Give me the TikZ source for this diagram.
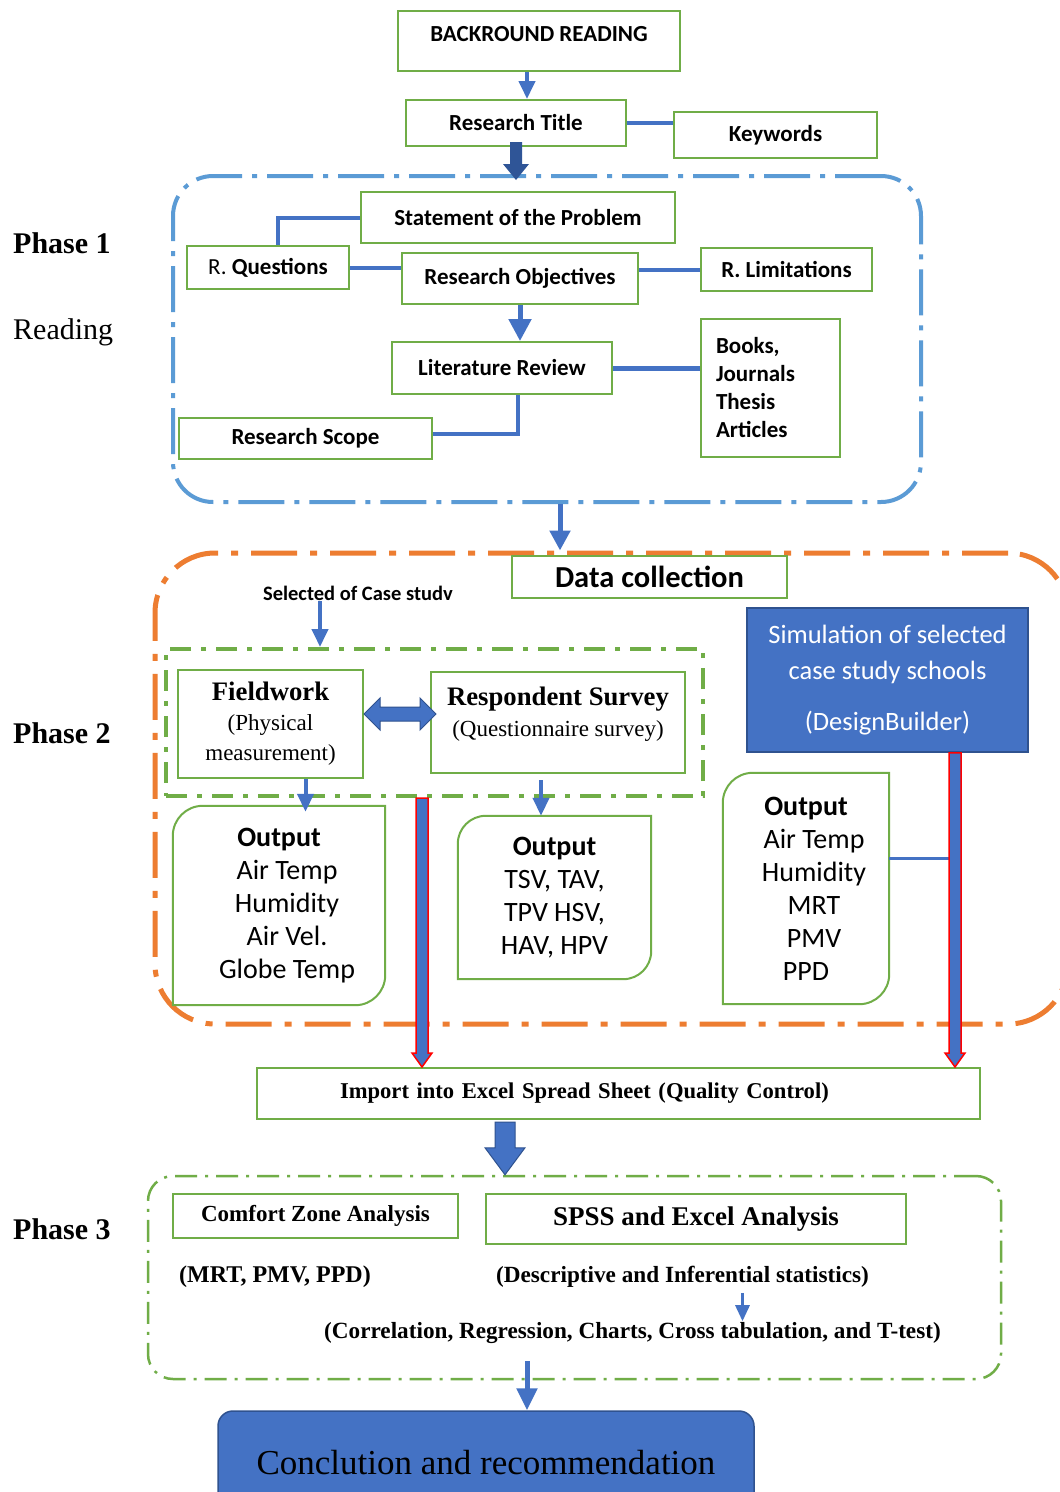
\documentclass[tikz,border=0pt]{standalone}
\usepackage{fontspec}
\setmainfont{Liberation Serif}
\newfontfamily\calibri{Carlito}
\usepackage{tikz}
\usetikzlibrary{arrows.meta,positioning,calc}
\definecolor{BoxGreen}   {RGB}{112,173, 71}
\definecolor{FlowBlue}   {RGB}{ 68,114,196}
\definecolor{FlowDark}   {RGB}{ 47, 85,151}
\definecolor{PhaseBlue}  {RGB}{ 91,155,213}
\definecolor{PhaseOrange}{RGB}{237,125, 49}
\definecolor{SimEdge}    {RGB}{ 47, 82,143}
% box with round top-left and bottom-right corners
\newcommand{\roundpair}[2]{%
  \draw[BoxGreen, line width=2pt]
    ([xshift=#2]#1.north west) -- (#1.north east)
    -- ([yshift=#2]#1.south east) arc[start angle=0, end angle=-90, radius=#2]
    -- (#1.south west)
    -- ([yshift=-#2]#1.north west) arc[start angle=180, end angle=90, radius=#2]
    -- cycle;%
}
% downward block arrow: style, from, to, half shaft, half head, head length
\newcommand{\blockarrow}[6][]{%
  \path[#1] let \p1=#2, \p2=#3 in
    (\x1-#4pt,\y1) -- (\x1-#4pt,\y2+#6pt) -- (\x1-#5pt,\y2+#6pt) -- (\x1,\y2)
    -- (\x1+#5pt,\y2+#6pt) -- (\x1+#4pt,\y2+#6pt) -- (\x1+#4pt,\y1) -- cycle;%
}
\newcommand{\rsh}{\hspace*{16pt}}
\begin{document}
\begin{tikzpicture}[x=1pt,y=-1pt,
  gbox/.style={draw=BoxGreen, line width=2pt, fill=white, inner sep=0pt, align=center,
    font=\calibri\bfseries\fontsize{23}{28}\selectfont},
  tbox/.style={gbox, font=\bfseries\fontsize{22.6}{26}\selectfont},
  outbox/.style={inner sep=0pt, align=center, font=\calibri\fontsize{28}{33}\selectfont},
  phaselbl/.style={inner sep=0pt, anchor=base west, font=\bfseries\fontsize{30}{36}\selectfont},
  note/.style={inner sep=1pt, font=\bfseries\fontsize{23.2}{27}\selectfont},
  link/.style={FlowBlue, line width=4pt},
  flow/.style={FlowBlue, line width=4pt, -{Triangle[width=16pt,length=18pt]}},
  phaseone/.style={draw=PhaseBlue, line width=4pt, rounded corners=40pt,
    dash pattern=on 46pt off 10pt on 5pt off 10pt},
  phasetwo/.style={draw=PhaseOrange, line width=5pt, rounded corners=60pt,
    dash pattern=on 46pt off 13pt on 7pt off 13pt},
  phasethree/.style={draw=BoxGreen, line width=2.5pt, rounded corners=25pt,
    dash pattern=on 22pt off 8pt on 3pt off 8pt},
  group/.style={draw=BoxGreen, line width=4pt,
    dash pattern=on 21pt off 10pt on 5pt off 10pt}]

  \fill[white] (0,0) rectangle (1060,1492);
  \useasboundingbox (0,0) rectangle (1060,1492);

  % phase frames
  \node[phaseone, minimum width=748pt, minimum height=326pt] (ph1) at (547,339) {};
  \node[phasetwo, minimum width=913pt, minimum height=471pt] (ph2) at (611.5,788.5) {};
  \node[phasethree, minimum width=853pt, minimum height=203pt] (ph3) at (574.5,1277.5) {};
  \node[group, minimum width=537pt, minimum height=147pt] (grp) at (434.5,722.5) {};

  % phase labels
  \node[phaselbl] (lbl1) at (13,253) {Phase 1};
  \node[phaselbl, font=\fontsize{30}{36}\selectfont] (lbl1b) at (13,339) {Reading};
  \node[phaselbl] (lbl2) at (13,743) {Phase 2};
  \node[phaselbl] (lbl3) at (13,1239) {Phase 3};

  % top and phase 1
  \node[gbox, minimum width=282pt, minimum height=60pt] (bg) at (539,41) {BACKROUND READING\\[-14pt]\mbox{}};
  \node[gbox, minimum width=220pt, minimum height=46pt] (title) at (516,123) {Research Title};
  \node[gbox, minimum width=203pt, minimum height=46pt] (kw) at (775.5,135) {Keywords};
  \node[gbox, minimum width=314pt, minimum height=51pt] (stmt) at (518,217.5) {Statement of the Problem};
  \node[gbox, minimum width=162pt, minimum height=43pt] (rq) at (268,267.5) {{\mdseries R.} Questions};
  \node[gbox, minimum width=236pt, minimum height=51pt] (ro) at (520,278.5) {Research Objectives};
  \node[gbox, minimum width=171pt, minimum height=43pt] (rl) at (786.5,269.5) {R. Limitations};
  \node[gbox, minimum width=220pt, minimum height=52pt] (lr) at (502,368) {Literature Review};
  \node[gbox, minimum width=139pt, minimum height=138pt, text width=109pt, align=left]
    (books) at (770.5,388) {Books,\\Journals\\Thesis\\Articles};
  \node[gbox, minimum width=253pt, minimum height=41pt] (rs) at (305.5,438.5) {Research Scope};

  \draw[link] (title.east) -- (title.east -| kw.west);
  \draw[link] (stmt.west) -| ([xshift=10pt]rq.north);
  \draw[link] (rq.east) -- (rq.east -| ro.west);
  \draw[link] (rl.west -| ro.east) -- (rl.west);
  \draw[link, line width=5pt] (lr.east) -- (lr.east -| books.west);
  \draw[link] ([xshift=16pt]lr.south) |- ([yshift=5pt]rs.east);
  \draw[flow] ([xshift=-12pt]bg.south) -- ([xshift=-12pt]bg.south |- title.north);
  \draw[flow, line width=5pt, -{Triangle[width=22pt,length=22pt]}]
    (ro.south) -- (ro.south |- lr.north);

  % phase 2
  \node[gbox, minimum width=275pt, minimum height=42pt, font=\calibri\bfseries\fontsize{30.5}{36}\selectfont]
    (dc) at (649.5,577) {Data collection};
  \node[note, font=\calibri\bfseries\fontsize{20.5}{24}\selectfont] (sel) at (358,593) {Selected of Case studv};
  \node[gbox, minimum width=185pt, minimum height=108pt, font=\fontsize{23}{30}\selectfont]
    (fw) at (270.5,724) {{\bfseries\fontsize{26.7}{30}\selectfont Fieldwork}\\(Physical\\measurement)};
  \node[gbox, minimum width=254pt, minimum height=101pt, font=\fontsize{23}{31}\selectfont]
    (rsv) at (558,722.5) {{\bfseries\fontsize{26.7}{30}\selectfont Respondent Survey}\\(Questionnaire survey)\\[-10pt]\mbox{}};
  \node[draw=SimEdge, line width=1.5pt, fill=FlowBlue, text=white, inner sep=0pt, align=center,
    minimum width=281pt, minimum height=144pt, font=\calibri\fontsize{26.5}{36}\selectfont]
    (sim) at (887.5,680) {Simulation of selected\\case study schools\\[15pt](DesignBuilder)};

  \node[outbox, minimum width=212pt, minimum height=199pt] (o1) at (279,905.5)
    {\textbf{Output}\\\rsh Air Temp\\\rsh Humidity\\\rsh Air Vel.\\\rsh Globe Temp};
  \roundpair{o1}{30pt}
  \node[outbox, minimum width=193pt, minimum height=163pt] (o2) at (554.5,897.5)
    {\textbf{Output}\\TSV, TAV,\\TPV HSV,\\HAV, HPV};
  \roundpair{o2}{28pt}
  \node[outbox, minimum width=166pt, minimum height=231pt] (o3) at (806,888.5)
    {\textbf{Output}\\\rsh Air Temp\\\rsh Humidity\\\rsh MRT\\\rsh PMV\\PPD};
  \roundpair{o3}{30pt}

  \node[tbox, minimum width=723pt, minimum height=51pt, text width=557pt, align=left]
    (imp) at (618.5,1093.5) {Import into Excel Spread Sheet (Quality Control)};

  \coordinate (simout) at ([xshift=67.5pt]sim.south);
  \coordinate (fwdown) at ([xshift=-12.5pt]grp.south);
  \draw[link, line width=3pt] ([yshift=30pt]o3.east) -- ([yshift=30pt]o3.east -| simout);

  \draw[flow] ([xshift=-38pt]sel.south) -- ([xshift=-38pt]sel.south |- grp.north);
  \draw[flow] ([xshift=35pt]fw.south) -- ([xshift=35pt,yshift=-6pt]fw.south |- o1.north);
  \draw[flow] ([xshift=-17pt,yshift=-6pt]rsv.south) -- ([xshift=-17pt]rsv.south |- o2.north);
  % two-way arrow between fieldwork and survey
  \path[fill=FlowBlue, draw=SimEdge, line width=1pt]
    let \p1=([yshift=10pt]fw.east), \p2=([yshift=10pt,xshift=6pt]rsv.west) in
    (\x1,\y1) -- (\x1+16pt,\y1+16pt) -- (\x1+16pt,\y1+7pt) -- (\x2-16pt,\y1+7pt)
    -- (\x2-16pt,\y1+16pt) -- (\x2,\y1) -- (\x2-16pt,\y1-16pt) -- (\x2-16pt,\y1-7pt)
    -- (\x1+16pt,\y1-7pt) -- (\x1+16pt,\y1-16pt) -- cycle;
  % long arrows down to the spread sheet
  \blockarrow[fill=FlowBlue, draw=red, line width=1.5pt]{(simout)}{(simout |- imp.north)}{6}{10}{14}
  \blockarrow[fill=FlowBlue, draw=red, line width=1.5pt]{(fwdown)}{(fwdown |- imp.north)}{6}{10}{14}

  % phase 3
  \node[tbox, minimum width=285pt, minimum height=44pt, font=\bfseries\fontsize{23}{27}\selectfont]
    (cza) at (315.5,1216) {Comfort Zone Analysis};
  \node[tbox, minimum width=420pt, minimum height=50pt, font=\bfseries\fontsize{27}{32}\selectfont]
    (spss) at (696,1219) {SPSS and Excel Analysis};
  \node[note, font=\bfseries\fontsize{24}{28}\selectfont] (mrt) at (275,1277) {(MRT, PMV, PPD)};
  \node[note] (desc) at (682.5,1277) {(Descriptive and Inferential statistics)};
  \node[note] (corr) at (632.5,1333) {(Correlation, Regression, Charts, Cross tabulation, and T-test)};
  \draw[flow, line width=3pt, -{Triangle[width=14pt,length=16pt]}]
    ([xshift=60pt,yshift=-4pt]desc.south) -- ([xshift=60pt]desc.south |- corr.north);

  % conclusion
  \node[draw=SimEdge, line width=1.5pt, fill=FlowBlue, rounded corners=15pt, inner sep=0pt,
    minimum width=536pt, minimum height=104pt, font=\fontsize{35}{40}\selectfont]
    (concl) at (486,1463) {Conclution and recommendation};
  \coordinate (p3out) at ([xshift=41pt]concl.north |- ph3.south);

  % connecting arrows between stages
  \blockarrow[fill=FlowDark]{([yshift=5pt]title.south)}{([yshift=-6pt]title.south |- ph1.north)}{6}{13}{16}
  \draw[flow, line width=5pt, -{Triangle[width=20pt,length=20pt]}]
    ([xshift=13pt]ph1.south) -- ([xshift=13pt]ph1.south |- ph2.north);
  \blockarrow[fill=FlowBlue, draw=SimEdge, line width=1pt]{([xshift=-113.5pt,yshift=-2pt]imp.south)}{([xshift=-113.5pt]imp.south |- ph3.north)}{10}{20}{27}
  \draw[flow, line width=5pt, -{Triangle[width=20pt,length=22pt]}]
    ([yshift=19pt]p3out) -- (p3out |- concl.north);
\end{tikzpicture}
\end{document}
